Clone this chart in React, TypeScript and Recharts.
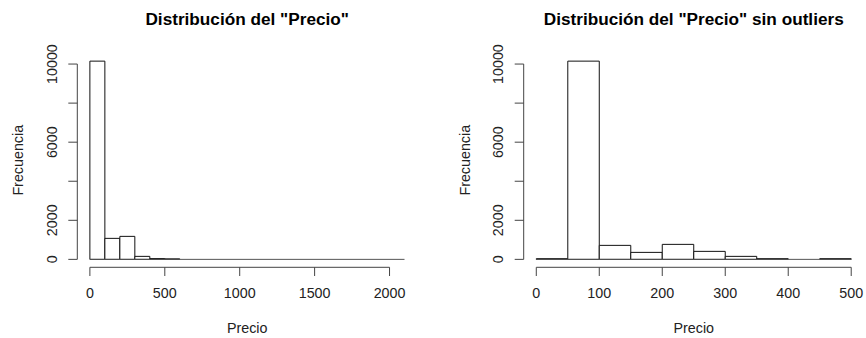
import React from "react";
import { BarChart, Bar, XAxis, YAxis, ReferenceLine } from "recharts";

// Histograma completo (bins de 100)
const fullMids = [50, 150, 250, 350, 450, 550, 650, 750, 850, 950, 1050, 1150, 1250, 1350, 1450, 1550, 1650, 1750, 1850, 1950, 2050];
const fullCounts = [10150, 1075, 1178, 154, 40, 25, 0, 0, 0, 0, 0, 0, 0, 0, 0, 0, 0, 0, 0, 0, 0];
const fullXTicks = [0, 500, 1000, 1500, 2000];

// Sin outliers (bins de 50)
const trimMids = [25, 75, 125, 175, 225, 275, 325, 375, 425, 475];
const trimCounts = [35, 10150, 717, 358, 768, 410, 154, 35, 0, 35];
const trimXTicks = [0, 100, 200, 300, 400, 500];

const yTicks = [0, 2000, 4000, 6000, 8000, 10000];
const yLabeled = [0, 2000, 6000, 10000];

const FONT = "'Liberation Sans', Arial, sans-serif";
const TEXT = "#222";
const LINE = "#444";

const W = 433;
const H = 338;

type PanelProps = {
  title: string;
  mids: number[];
  counts: number[];
  binWidth: number;
  xTicks: number[];
  left: number;
  right: number;
  yLabelX: number;
};

const YTick = (props: any) => {
  const { x, y, payload } = props;
  if (!yLabeled.includes(payload.value)) return <g />;
  return (
    <text
      x={x}
      y={y}
      transform={`rotate(-90 ${x} ${y})`}
      textAnchor="middle"
      dy="0.35em"
      fill={TEXT}
      fontSize={14.3}
      fontFamily={FONT}
    >
      {payload.value}
    </text>
  );
};

function Histogram({ title, mids, counts, binWidth, xTicks, left, right, yLabelX }: PanelProps) {
  const data = mids.map((m, i) => ({ mid: m, count: counts[i] }));
  const lo = mids[0] - binWidth / 2;
  const hi = mids[mids.length - 1] + binWidth / 2;
  const xPad = (hi - lo) * 0.04;
  const xDomain = [lo - xPad, hi + xPad];
  const yMax = Math.max(...counts);
  const yDomain = [-yMax * 0.04, yMax * 1.04];

  const top = 53.2;
  const bottom = 70.7;
  const plotW = W - left - right;
  const band = (plotW * binWidth) / (xDomain[1] - xDomain[0]);
  const cx = left + plotW / 2;
  const cy = top + (H - top - bottom) / 2;

  return (
    <div style={{ position: "relative", width: W, height: H }}>
      <BarChart
        width={W}
        height={H}
        data={data}
        margin={{ top, right, bottom: 0, left: 0 }}
        barGap={0}
        barCategoryGap={0}
      >
        <XAxis
          dataKey="mid"
          type="number"
          domain={xDomain}
          allowDataOverflow
          ticks={xTicks}
          interval={0}
          height={bottom}
          axisLine={false}
          tickLine={{ stroke: LINE }}
          tickSize={8.7}
          tickMargin={12}
          tick={{ fill: TEXT, fontSize: 14.3, fontFamily: FONT }}
        />
        <YAxis
          type="number"
          domain={yDomain}
          allowDataOverflow
          ticks={yTicks}
          interval={0}
          width={left}
          axisLine={false}
          tickLine={{ stroke: LINE }}
          tickSize={9}
          tickMargin={16.6}
          tick={<YTick />}
        />
        <ReferenceLine
          segment={[{ x: xTicks[0], y: yDomain[0] }, { x: xTicks[xTicks.length - 1], y: yDomain[0] }]}
          stroke={LINE}
          ifOverflow="visible"
        />
        <ReferenceLine
          segment={[{ x: xDomain[0], y: yTicks[0] }, { x: xDomain[0], y: yTicks[yTicks.length - 1] }]}
          stroke={LINE}
          ifOverflow="visible"
        />
        <ReferenceLine
          segment={[{ x: lo, y: 0 }, { x: hi, y: 0 }]}
          stroke="#555"
          ifOverflow="visible"
        />
        <Bar
          dataKey="count"
          fill="#fff"
          stroke="#111"
          strokeWidth={1}
          barSize={band - 0.001}
          isAnimationActive={false}
        />
      </BarChart>
      <svg width={W} height={H} style={{ position: "absolute", left: 0, top: 0, pointerEvents: "none" }}>
        <text x={cx} y={25} textAnchor="middle" fontSize={17.2} fontWeight="bold" fontFamily={FONT} fill="#000">
          {title}
        </text>
        <text x={cx} y={333.4} textAnchor="middle" fontSize={14.3} fontFamily={FONT} fill={TEXT}>
          Precio
        </text>
        <text
          x={yLabelX}
          y={cy}
          transform={`rotate(-90 ${yLabelX} ${cy})`}
          textAnchor="middle"
          dy="0.35em"
          fontSize={14.3}
          fontFamily={FONT}
          fill={TEXT}
        >
          Frecuencia
        </text>
      </svg>
    </div>
  );
}

export default function App() {
  return (
    <div style={{ position: "absolute", left: 0, top: 0, width: 866, height: 338, background: "#fff", display: "flex" }}>
      <Histogram
        title={'Distribución del "Precio"'}
        mids={fullMids}
        counts={fullCounts}
        binWidth={100}
        xTicks={fullXTicks}
        left={77.3}
        right={15.9}
        yLabelX={18}
      />
      <Histogram
        title={'Distribución del "Precio" sin outliers'}
        mids={trimMids}
        counts={trimCounts}
        binWidth={50}
        xTicks={trimXTicks}
        left={90.7}
        right={2.2}
        yLabelX={31.7}
      />
    </div>
  );
}
